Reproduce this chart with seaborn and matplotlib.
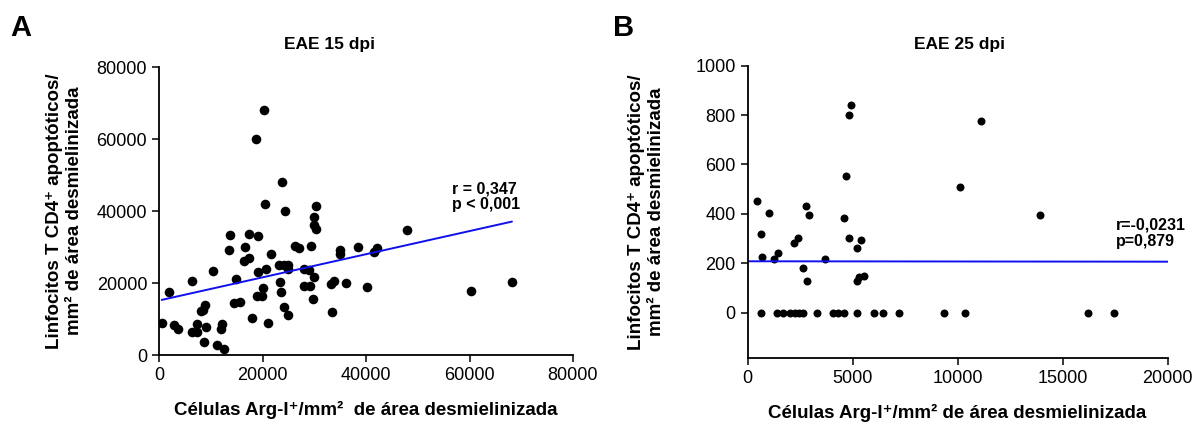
import matplotlib
matplotlib.use("Agg")
import matplotlib.pyplot as plt
import seaborn as sns
import pandas as pd

# Panel A: EAE 15 dpi (Arg-I+ cells vs apoptotic CD4+ T cells)
arg_15 = [20350, 18800, 23700, 20480, 24280, 30270, 29880, 29880, 30270, 47900,
          13780, 17450, 19130, 13520, 16550, 17450, 16360, 21640, 26210, 27050,
          29430, 34900, 34900, 38380, 41470, 42120, 10430, 6310, 2000, 14940,
          19060, 20600, 23180, 24090, 24990, 24930, 28080, 28920, 29880,
          23440, 33230, 33870, 36190, 40190, 28080, 29240, 20090, 19000, 19830,
          23630, 29820, 14430, 15580, 8950, 8440, 8110, 24210, 33360, 18030,
          24920, 21000, 520, 2960, 3740, 6310, 7410, 7410, 9020, 12240,
          12040, 8760, 11210, 12490, 60280, 68200]
cd4_15 = [67970, 60000, 47970, 42040, 40000, 41300, 38240, 36200, 35000, 34820,
          33240, 33700, 32970, 29260, 30000, 26950, 26200, 28150, 30190, 29720,
          30190, 29080, 28150, 29910, 28600, 29720, 23340, 20560, 17500, 21020,
          23150, 23980, 25000, 25000, 25000, 23980, 23800, 23520, 21580,
          20190, 19720, 20460, 20000, 18980, 19080, 19080, 18700, 16480, 16300,
          17410, 15650, 14450, 14820, 13800, 12410, 12130, 13430, 12040, 10370,
          11020, 8890, 8890, 8430, 7220, 6300, 6300, 8610, 7960, 8700,
          7220, 3610, 2780, 1850, 17860, 20280]

# Panel B: EAE 25 dpi
arg_25 = [436, 1008, 627, 675, 1278, 1452, 2214, 2404, 2785, 2912,
          2658, 2817, 3690, 4579, 4706, 4817, 4944, 4833, 5404, 5230,
          5230, 5309, 5547, 10117, 11100, 13923,
          627, 1389, 1674, 2023, 2261, 2468, 2626, 3325, 4055, 4325,
          4595, 5198, 6024, 6436, 7198, 9357, 10373, 16224, 17445]
cd4_25 = [453, 403, 320, 227, 216, 243, 281, 301, 430, 397,
          179, 128, 217, 382, 553, 800, 842, 303, 293, 262,
          128, 146, 150, 508, 775, 394,
          0, 0, 0, 0, 0, 0, 0, 0, 0, 0,
          0, 0, 0, 0, 0, 0, 0, 0, 0]

df15 = pd.DataFrame({"arg": arg_15, "cd4": cd4_15})
df25 = pd.DataFrame({"arg": arg_25, "cd4": cd4_25})

sns.set_style("ticks")
plt.rcParams["font.family"] = ["Liberation Sans", "DejaVu Sans"]
plt.rcParams["text.color"] = "black"
plt.rcParams["axes.labelcolor"] = "black"
plt.rcParams["axes.linewidth"] = 1.3
plt.rcParams["xtick.major.width"] = 1.1
plt.rcParams["ytick.major.width"] = 1.1
plt.rcParams["xtick.major.size"] = 5
plt.rcParams["ytick.major.size"] = 5

YLABEL = "Linfocitos T CD4⁺ apoptóticos/\nmm² de área desmielinizada"

fig = plt.figure(figsize=(12, 4.3), dpi=100)
axA = fig.add_axes([0.1325, 0.174, 0.345, 0.670])
axB = fig.add_axes([0.623, 0.167, 0.350, 0.680])

# --- A ---
axA.set_xlim(0, 80000)
axA.set_ylim(0, 80000)
sns.regplot(data=df15, x="arg", y="cd4", ax=axA, ci=None, truncate=True,
            scatter_kws={"s": 48, "color": "black", "linewidths": 0, "alpha": 1},
            line_kws={"color": "#1010ee", "lw": 1.4})
axA.set_xlim(0, 80000)
axA.set_ylim(0, 80000)
axA.set_xticks(range(0, 80001, 20000))
axA.set_yticks(range(0, 80001, 20000))
axA.set_xlabel("Células Arg-I⁺/mm²  de área desmielinizada",
               fontsize=13.5, fontweight="bold", labelpad=12)
axA.set_ylabel(YLABEL, fontsize=13.5, fontweight="bold", labelpad=10)
axA.text(56700, 48300, "r = 0,347\np < 0,001", fontsize=11.5, fontweight="bold",
         va="top", ha="left", linespacing=1.1)

# --- B ---
axB.set_xlim(0, 20000)
axB.set_ylim(-185, 1000)
sns.regplot(data=df25, x="arg", y="cd4", ax=axB, ci=None, truncate=False,
            scatter_kws={"s": 33, "color": "black", "linewidths": 0, "alpha": 1},
            line_kws={"color": "#1010ee", "lw": 1.4})
axB.set_xlim(0, 20000)
axB.set_ylim(-185, 1000)
axB.set_xticks(range(0, 20001, 5000))
axB.set_yticks(range(0, 1001, 200))
axB.set_xlabel("Células Arg-I⁺/mm² de área desmielinizada",
               fontsize=13.5, fontweight="bold", labelpad=12)
axB.set_ylabel(YLABEL, fontsize=13.5, fontweight="bold", labelpad=22)
axB.text(17540, 385, "r=-0,0231\np=0,879", fontsize=11.5, fontweight="bold",
         va="top", ha="left", linespacing=1.1)

for ax in (axA, axB):
    sns.despine(ax=ax)
    ax.tick_params(labelsize=13, direction="out", colors="black")
    ax.spines["left"].set_color("black")
    ax.spines["bottom"].set_color("black")

fig.text(330 / 1200, 1 - 45 / 430, "EAE 15 dpi", ha="center", va="center",
         fontsize=12.5, fontweight="bold")
fig.text(960 / 1200, 1 - 45 / 430, "EAE 25 dpi", ha="center", va="center",
         fontsize=12.5, fontweight="bold")
fig.text(10 / 1200, 1 - 28 / 430, "A", ha="left", va="center",
         fontsize=21, fontweight="bold")
fig.text(613 / 1200, 1 - 28 / 430, "B", ha="left", va="center",
         fontsize=21, fontweight="bold")

fig.savefig("out.png", dpi=100)
